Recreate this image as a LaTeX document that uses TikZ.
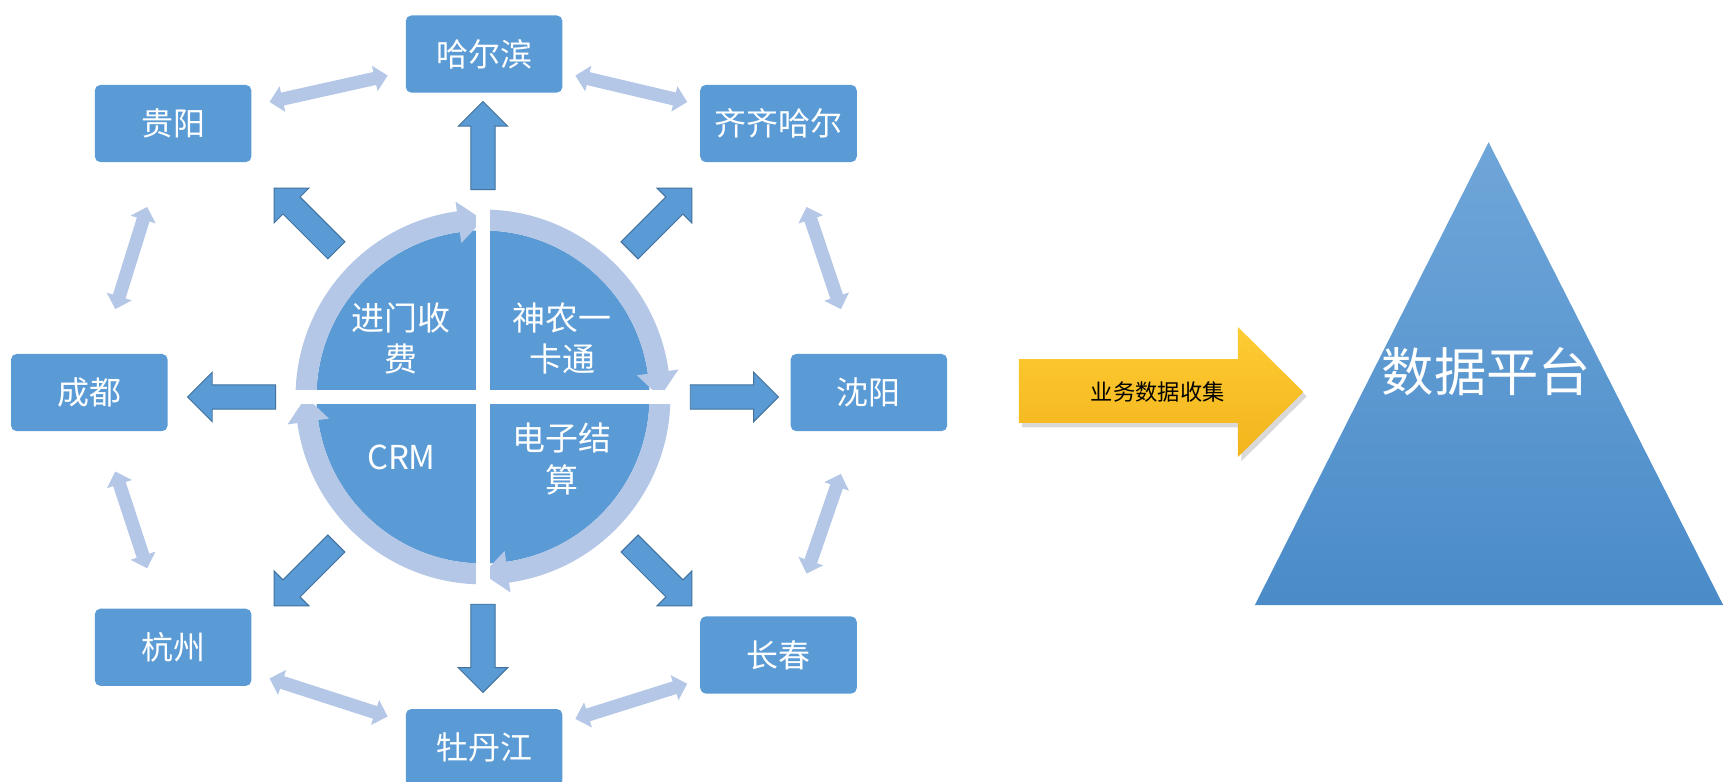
\documentclass[tikz,border=0pt]{standalone}
\usepackage{fontspec}
\setmainfont{Noto Sans CJK SC}
\usetikzlibrary{calc,arrows.meta,shapes.arrows,shadows}

\definecolor{boxblue}{HTML}{5B9BD5}
\definecolor{ringblue}{HTML}{B4C7E7}
\definecolor{spokeline}{HTML}{41719C}
\definecolor{gold1}{HTML}{FFCC33}
\definecolor{gold2}{HTML}{F2B41C}
\definecolor{tritop}{HTML}{6FA6D9}
\definecolor{tribot}{HTML}{4A8BC8}

\tikzset{
  city/.style={rectangle, rounded corners=0.1cm, fill=boxblue, text=white,
    minimum width=2.84cm, minimum height=1.4cm, font=\fontsize{16.5}{20}\selectfont},
  quarter/.style={text=white, align=center, font=\fontsize{17}{21.5}\selectfont},
  spoke/.style={single arrow, fill=boxblue, draw=spokeline, line width=0.5pt,
    inner xsep=0pt, inner ysep=0.21cm, minimum height=1.6cm,
    single arrow head extend=0.23cm, sloped, allow upside down},
  link/.style={ringblue, line width=0.24cm, >={Triangle[width=0.46cm,length=0.24cm]}, <->},
}

\begin{document}
\begin{tikzpicture}[x=0.02cm, y=0.02cm]
  \useasboundingbox (0,0) rectangle (1568,-709);

  % Cities round the circle
  \node[city] (harbin)     at (439,-49)  {哈尔滨};
  \node[city] (guiyang)    at (157,-112) {贵阳};
  \node[city] (qiqihar)    at (706,-112) {齐齐哈尔};
  \node[city] (chengdu)    at (81,-356)  {成都};
  \node[city] (shenyang)   at (788,-356) {沈阳};
  \node[city] (hangzhou)   at (157,-587) {杭州};
  \node[city] (changchun)  at (706,-594) {长春};
  \node[city] (mudanjiang) at (439,-678) {牡丹江};

  % Links between neighbouring cities
  \foreach \a/\b in {guiyang/harbin, harbin/qiqihar, qiqihar/shenyang,
      shenyang/changchun, changchun/mudanjiang, mudanjiang/hangzhou,
      hangzhou/chengdu, chengdu/guiyang}
    \draw[link] ($(\a)!0.31!(\b)$) -- ($(\a)!0.69!(\b)$);

  % Core circle with its turning ring
  \coordinate (core) at (438,-360);
  \fill[boxblue] (core) circle (151);
  \foreach \r in {0,-90,-180,-270}
    \fill[ringblue, shift={(core)}, rotate=\r]
      (180:170) arc[start angle=180, end angle=98, radius=170]
      -- (98:179) -- (90:160.5) -- (98:141) -- (98:151)
      arc[start angle=98, end angle=180, radius=151] -- cycle;
  \draw[white, line width=0.24cm]
    ($(core)+(-178,0)$) -- ($(core)+(178,0)$)
    ($(core)+(0,-178)$) -- ($(core)+(0,178)$);

  \node[quarter] (fee)  at (364,-307)   {进门收\\费};
  \node[quarter] (card) at (510,-307)   {神农一\\卡通};
  \node[quarter] (crm)  at (364,-415)   {CRM};
  \node[quarter] (pay)  at (510,-416.5) {电子结\\算};

  % Spokes from the circle out to each city
  \foreach \c/\a in {harbin/90, qiqihar/45, shenyang/0, changchun/-45,
      mudanjiang/-90, hangzhou/-135, chengdu/180, guiyang/135}
    \path (core) -- ++(\a:445) node[midway, spoke] (sp-\c) {};

  % Collecting arrow
  \shade[top color=gold1, bottom color=gold2,
      drop shadow={opacity=0.3, shadow xshift=0.06cm, shadow yshift=-0.08cm}]
    (924,-325.6) -- (1122.7,-325.6) -- (1122.7,-296.6) -- (1182,-355.5)
    -- (1122.7,-414.4) -- (1122.7,-383.6) -- (924,-383.6) -- cycle;
  \node[font=\fontsize{11.5}{14}\selectfont] (collect) at (1050,-355.5) {业务数据收集};

  % Data platform
  \shade[top color=tritop, bottom color=tribot]
    (1350,-129) -- (1562.7,-548.7) -- (1138,-548.7) -- cycle;
  \node[text=white, font=\fontsize{27}{32}\selectfont] (platform) at (1348,-337) {数据平台};
\end{tikzpicture}
\end{document}
